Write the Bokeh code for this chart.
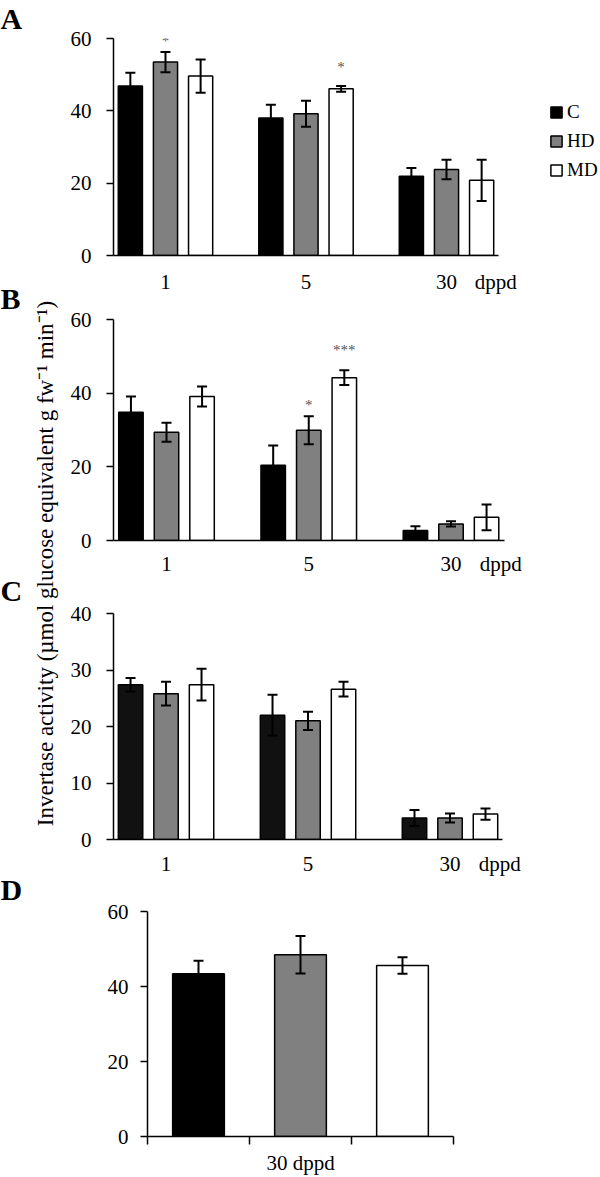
import math
from bokeh.plotting import figure
from bokeh.models import (ColumnDataSource, Range1d, FixedTicker, Whisker, TeeHead,
                          Legend, LegendItem, Label)
from bokeh.layouts import row, column
from bokeh.embed import file_html
from bokeh.resources import INLINE
from bokeh.core.properties import value

FONT = "Liberation Serif"

# ---------------- data ----------------
days = ["1", "5", "30"]
treatments = ["C", "HD", "MD"]
unit_word = "dppd"
y_title = "Invertase activity (\u00b5mol glucose equivalent g fw\u207b\u00b9 min\u207b\u00b9)"

# Panel A
a_C = [46.9, 38.0, 21.9]
a_HD = [53.5, 39.2, 23.8]
a_MD = [49.6, 46.1, 20.8]
a_C_err = [3.6, 3.7, 2.3]
a_HD_err = [2.8, 3.6, 2.7]
a_MD_err = [4.6, 0.8, 5.7]
a_sig = [("HD", "1", "*"), ("MD", "5", "*")]

# Panel B
b_C = [34.8, 20.4, 2.7]
b_HD = [29.4, 29.9, 4.5]
b_MD = [39.1, 44.2, 6.3]
b_C_err = [4.3, 5.4, 1.2]
b_HD_err = [2.6, 3.8, 0.7]
b_MD_err = [2.7, 2.0, 3.5]
b_sig = [("HD", "5", "*"), ("MD", "5", "***")]

# Panel C
c_C = [27.4, 22.0, 3.8]
c_HD = [25.8, 21.0, 3.8]
c_MD = [27.4, 26.6, 4.5]
c_C_err = [1.2, 3.6, 1.4]
c_HD_err = [2.1, 1.6, 0.8]
c_MD_err = [2.8, 1.3, 1.0]

# Panel D (30 dppd only)
d_day = "30"
d_vals = [43.4, 48.5, 45.6]
d_err = [3.5, 5.0, 2.2]

yticks_60 = [0, 20, 40, 60]
yticks_40 = [0, 10, 20, 30, 40]

# ---------------- style ----------------
COL_ABD = ["#000000", "#808080", "#ffffff"]
COL_C = ["#111111", "#808080", "#ffffff"]
TICK_FS = "21px"
OFFS = [-0.25, 0.0, 0.25]
BAR_W = 0.172
UNIT_POS = 2.35
W_PANEL = 536
B_LEFT = 49
B_RIGHT = 0


def style_axis(ax):
    ax.axis_line_color = "black"
    ax.axis_line_width = 1.5
    ax.major_tick_line_color = "black"
    ax.major_tick_line_width = 1.5
    ax.minor_tick_out = 0
    ax.minor_tick_in = 0
    ax.major_tick_in = 0
    ax.major_label_text_font = FONT
    ax.major_label_text_font_size = TICK_FS
    ax.major_label_text_color = "black"


def style_y(ax, yticks, standoff):
    style_axis(ax)
    ax.ticker = FixedTicker(ticks=yticks)
    ax.major_tick_out = 7
    ax.major_label_standoff = standoff


def add_whisker(p, src):
    w = Whisker(source=src, base="x", upper="upper", lower="lower",
                line_color="black", line_width=2,
                upper_head=TeeHead(size=10, line_color="black", line_width=2),
                lower_head=TeeHead(size=10, line_color="black", line_width=2))
    w.level = "overlay"
    p.add_layout(w)


def grouped_panel(height, btop, bbot, xr, xbounds, means, errs, colors, ymax, yticks,
                  xstandoff, sig=None, sig_off=None, legend=False):
    p = figure(width=W_PANEL, height=height, x_range=Range1d(*xr),
               y_range=Range1d(0, ymax), output_backend="svg", toolbar_location=None,
               min_border_left=B_LEFT, min_border_right=B_RIGHT, min_border_top=btop,
               min_border_bottom=bbot, frame_align=False)
    p.outline_line_color = None
    p.grid.visible = False
    style_y(p.yaxis[0], yticks, 15)
    rends = []
    for k, t in enumerate(treatments):
        xs = [i + OFFS[k] for i in range(len(days))]
        m = means[k]
        e = errs[k]
        src = ColumnDataSource(dict(x=xs, top=m,
                                    upper=[a + b for a, b in zip(m, e)],
                                    lower=[a - b for a, b in zip(m, e)]))
        r = p.vbar(x="x", top="top", bottom=0, width=BAR_W, source=src,
                   fill_color=colors[k], line_color="black", line_width=1.5)
        add_whisker(p, src)
        rends.append(r)
    xa = p.xaxis[0]
    style_axis(xa)
    xa.bounds = xbounds
    ticks = list(range(len(days))) + [UNIT_POS]
    xa.ticker = FixedTicker(ticks=ticks)
    labels = {i: d for i, d in enumerate(days)}
    labels[UNIT_POS] = unit_word
    xa.major_label_overrides = labels
    xa.major_tick_out = 0
    xa.major_label_standoff = xstandoff
    if sig:
        sx, sy, st = [], [], []
        for (t, d, s) in sig:
            k = treatments.index(t)
            i = days.index(d)
            sx.append(i + OFFS[k])
            sy.append(means[k][i] + errs[k][i])
            st.append(s)
        p.text(x=sx, y=sy, text=st, y_offset=sig_off, text_align="center",
               text_baseline="alphabetic", text_font=value(FONT),
               text_font_size="15px", text_color="#555555")
    if legend:
        lg = Legend(items=[LegendItem(label=value(t), renderers=[r])
                           for t, r in zip(treatments, rends)],
                    location=(436, 74), orientation="vertical",
                    glyph_width=14, glyph_height=14, label_standoff=4,
                    spacing=7, padding=0, margin=0, border_line_alpha=0,
                    background_fill_alpha=0, label_height=20,
                    label_text_font=FONT, label_text_font_size="19px",
                    label_text_color="black")
        p.add_layout(lg)
    return p


pA = grouped_panel(296, 38, 38, (-0.37, 3.096), (-0.37, 2.37),
                   [a_C, a_HD, a_MD], [a_C_err, a_HD_err, a_MD_err],
                   COL_ABD, 60, yticks_60, 14, sig=a_sig, sig_off=[-11, -19], legend=True)
pB = grouped_panel(288, 23, 44, (-0.3726, 3.051), (-0.3726, 2.376),
                   [b_C, b_HD, b_MD], [b_C_err, b_HD_err, b_MD_err],
                   COL_ABD, 60, yticks_60, 11, sig=b_sig, sig_off=[-11, -20])
pC = grouped_panel(294, 29, 39, (-0.37, 3.060), (-0.37, 2.369),
                   [c_C, c_HD, c_MD], [c_C_err, c_HD_err, c_MD_err],
                   COL_C, 40, yticks_40, 12)

# Panel D
pD = figure(width=W_PANEL, height=299, x_range=Range1d(0, 3), y_range=Range1d(0, 60),
            output_backend="svg", toolbar_location=None,
            min_border_left=83, min_border_right=147, min_border_top=33,
            min_border_bottom=39, frame_align=False)
pD.outline_line_color = None
pD.grid.visible = False
style_y(pD.yaxis[0], yticks_60, 12)
d_src = ColumnDataSource(dict(x=[i + 0.5 for i in range(len(treatments))], top=d_vals,
                              upper=[a + b for a, b in zip(d_vals, d_err)],
                              lower=[a - b for a, b in zip(d_vals, d_err)],
                              color=COL_ABD))
pD.vbar(x="x", top="top", bottom=0, width=0.507, source=d_src, fill_color="color",
        line_color="black", line_width=1.5)
add_whisker(pD, d_src)
xd = pD.xaxis[0]
style_axis(xd)
xd.ticker = FixedTicker(ticks=list(range(len(treatments) + 1)))
xd.major_label_overrides = {i: "" for i in range(len(treatments) + 1)}
xd.major_label_text_font_size = "0px"
xd.major_label_standoff = 0
xd.major_tick_out = 8
xd.axis_label = d_day + " " + unit_word
xd.axis_label_text_font = FONT
xd.axis_label_text_font_style = "normal"
xd.axis_label_text_font_size = TICK_FS
xd.axis_label_text_color = "black"
xd.axis_label_standoff = 6

# Left strip with panel letters and shared y title
H = 1177
s = figure(width=64, height=H, x_range=Range1d(0, 64), y_range=Range1d(0, H),
           x_axis_type=None, y_axis_type=None, min_border=0, output_backend="svg",
           toolbar_location=None, frame_align=False, title=None)
s.outline_line_color = None
for letter, base_y in [("A", 18), ("B", 298), ("C", 590), ("D", 889)]:
    s.add_layout(Label(x=0, y=H - base_y, text=letter, text_font=FONT,
                       text_font_style="bold", text_font_size="30px",
                       text_baseline="alphabetic", text_color="black"))
s.add_layout(Label(x=45, y=H - 563, text=y_title, angle=math.pi / 2,
                   text_align="center", text_baseline="alphabetic", text_font=FONT,
                   text_font_size="23px", text_color="black"))

layout = row(s, column(pA, pB, pC, pD))
open("out.html", "w").write(file_html(layout, INLINE))
